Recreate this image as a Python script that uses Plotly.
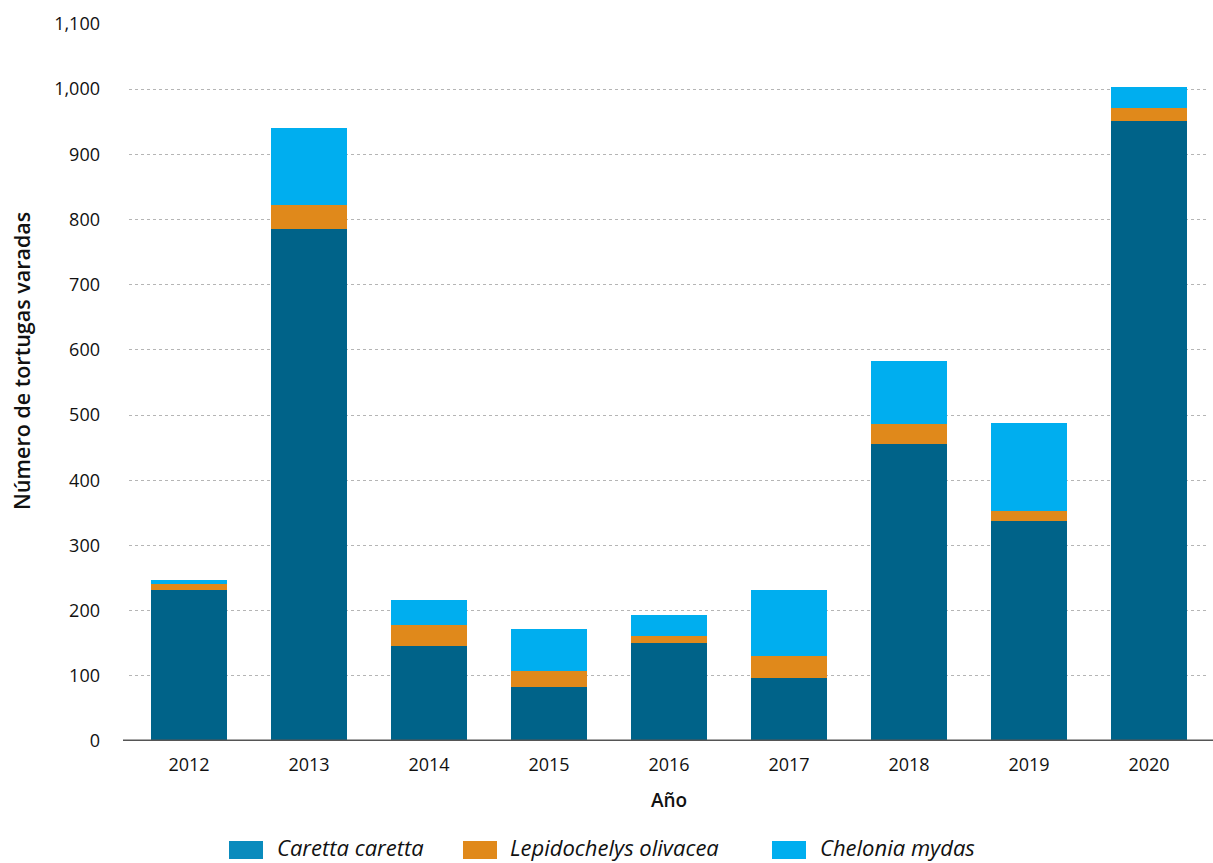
import plotly.graph_objects as go

years = ["2012", "2013", "2014", "2015", "2016", "2017", "2018", "2019", "2020"]
caretta = [231, 785, 146, 83, 150, 97, 455, 337, 951]
lepido = [10, 37, 32, 24, 11, 34, 32, 16, 20]
chelonia = [6, 118, 38, 65, 32, 101, 96, 135, 32]

series_names = ["Caretta caretta", "Lepidochelys olivacea", "Chelonia mydas"]
bar_colors = ["#006389", "#e0891b", "#00aeef"]
legend_colors = ["#0a8bbd", "#e0891b", "#00aeef"]

y_ticks = [0, 100, 200, 300, 400, 500, 600, 700, 800, 900, 1000, 1100]
y_tick_text = ["0", "100", "200", "300", "400", "500", "600", "700", "800", "900", "1,000", "1,100"]

FONT = "Open Sans"
W, H = 1213, 863
L, R, T, B = 129, 4, 24, 122
PW, PH = W - L - R, H - T - B


def px_x(px):
    return (px - L) / PW


def px_y(py):
    return (H - B - py) / PH


fig = go.Figure()
for name, vals, col in zip(series_names, [caretta, lepido, chelonia], bar_colors):
    fig.add_trace(go.Bar(x=years, y=vals, name=name, marker=dict(color=col, line=dict(width=0)),
                         showlegend=False))

fig.update_layout(
    barmode="stack",
    bargap=0.36,
    width=W, height=H,
    margin=dict(l=L, r=R, t=T, b=B, autoexpand=False),
    plot_bgcolor="white", paper_bgcolor="white",
    font=dict(family=FONT, color="#111111", size=18),
    showlegend=False,
    xaxis=dict(type="category", showgrid=False, showline=False, ticks="",
               tickfont=dict(size=18), ticklabelstandoff=11,
               title=dict(text="Año", font=dict(size=19, weight=600), standoff=18)),
    yaxis=dict(range=[0, 1100], tickvals=y_ticks, ticktext=y_tick_text,
               showgrid=True, gridcolor="#b5b5b5", griddash="dot", gridwidth=1,
               zeroline=False, showline=False, ticks="",
               tickfont=dict(size=18), ticklabelstandoff=28),
)

# baseline
fig.add_shape(type="line", xref="paper", yref="y", x0=px_x(123), x1=px_x(1213), y0=0, y1=0,
              line=dict(color="#555555", width=3))

# y-axis title
fig.add_annotation(text="Número de tortugas varadas", xref="paper", yref="paper",
                   x=px_x(22), y=px_y(361), textangle=-90, showarrow=False,
                   font=dict(size=21.5, weight=600, family=FONT), xanchor="center", yanchor="middle")

# legend (swatches + italic labels)
swatch_x = [229, 463, 772]
text_x = [275, 508, 818]
for name, col, sx, tx in zip(series_names, legend_colors, swatch_x, text_x):
    fig.add_shape(type="rect", xref="paper", yref="paper",
                  x0=px_x(sx), x1=px_x(sx + 34), y0=px_y(859), y1=px_y(841),
                  fillcolor=col, line=dict(width=0))
    fig.add_annotation(text=name, xref="paper", yref="paper", x=px_x(tx), y=px_y(847),
                       xanchor="left", yanchor="middle", showarrow=False,
                       font=dict(size=22, style="italic", family=FONT, color="#111111"))

fig.write_html("out.html", post_script="document.body.style.margin='0';",
               config={"displayModeBar": False})
